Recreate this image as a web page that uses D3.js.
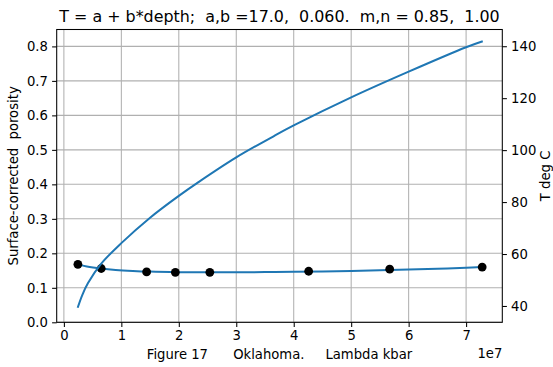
<!DOCTYPE html>
<html>
<head>
<meta charset="utf-8">
<script src="https://cdn.jsdelivr.net/npm/d3@7/dist/d3.min.js"></script>
<style>
  html, body { margin: 0; padding: 0; background: #fff; }
  svg { display: block; font-family: "DejaVu Sans", sans-serif; }
  text { white-space: pre; fill: #000; }
</style>
</head>
<body>
<svg id="chart" width="553" height="367"></svg>
<script>
// Lambda (units of 1e7) of the observed points and the porosity at each
const lambdaObs   = [0.244, 0.65, 1.44, 1.94, 2.54, 4.26, 5.67, 7.28];
const porosityObs = [0.168, 0.156, 0.146, 0.145, 0.145, 0.148, 0.154, 0.160];

// Fitted porosity curve
const lambdaFit   = [0.244, 0.4, 0.65, 0.9, 1.2, 1.5, 2.0, 2.5, 3.0, 3.5, 4.0, 4.5, 5.0, 5.5, 6.0, 6.5, 7.0, 7.28];
const porosityFit = [0.168, 0.162, 0.156, 0.152, 0.149, 0.147, 0.1455, 0.145, 0.145, 0.1455, 0.1465, 0.1475, 0.149, 0.151, 0.153, 0.155, 0.158, 0.160];

// Temperature curve (right axis)
const lambdaT = [0.24, 0.32, 0.42, 0.65, 1.0, 1.5, 2.0, 2.33, 3.0, 3.67, 4.0, 5.0, 6.0, 7.0, 7.29];
const tempT   = [39.3, 44.2, 48.8, 56.3, 64.2, 74.0, 82.4, 87.5, 97.2, 105.6, 109.5, 120.3, 130.2, 139.6, 141.9];

// Tick values
const xTicks = [0, 1, 2, 3, 4, 5, 6, 7];
const porosityTicks = [0.0, 0.1, 0.2, 0.3, 0.4, 0.5, 0.6, 0.7, 0.8];
const tempTicks = [40, 60, 80, 100, 120, 140];

const titleText = "T = a + b*depth;  a,b =17.0,  0.060.  m,n = 0.85,  1.00";
const xLabel = "Figure 17      Oklahoma.     Lambda kbar";
const yLabel = "Surface-corrected  porosity";
const y2Label = "T deg C";

const svg = d3.select("#chart");
const L = 56.7, R = 502.3, T = 29.5, B = 322.3;
const blue = "#1f77b4";
const fs = 13.2;

const x = d3.scaleLinear().domain([-0.125, 7.63]).range([L, R]);
const y = d3.scaleLinear().domain([0, 0.849]).range([B, T]);
const y2 = d3.scaleLinear().domain([33.71, 146.44]).range([B, T]);

// grid
const grid = svg.append("g");
grid.selectAll("line.gx").data(xTicks).join("line")
  .attr("x1", d => x(d)).attr("x2", d => x(d))
  .attr("y1", T).attr("y2", B)
  .attr("stroke", "#b0b0b0").attr("stroke-width", 1.05);
grid.selectAll("line.gy").data(porosityTicks).join("line")
  .attr("y1", d => y(d)).attr("y2", d => y(d))
  .attr("x1", L).attr("x2", R)
  .attr("stroke", "#b0b0b0").attr("stroke-width", 1.05);

svg.append("defs").append("clipPath").attr("id", "plot")
  .append("rect").attr("x", L).attr("y", T).attr("width", R - L).attr("height", B - T);

const plot = svg.append("g").attr("clip-path", "url(#plot)");

// fitted porosity line
plot.append("path")
  .datum(lambdaFit.map((v, i) => [v, porosityFit[i]]))
  .attr("fill", "none").attr("stroke", blue).attr("stroke-width", 2)
  .attr("d", d3.line().x(d => x(d[0])).y(d => y(d[1])).curve(d3.curveCatmullRom.alpha(0.5)));

// observed points
plot.selectAll("circle").data(lambdaObs.map((v, i) => [v, porosityObs[i]])).join("circle")
  .attr("cx", d => x(d[0])).attr("cy", d => y(d[1]))
  .attr("r", 4.4).attr("fill", "#000");

// temperature line
plot.append("path")
  .datum(lambdaT.map((v, i) => [v, tempT[i]]))
  .attr("fill", "none").attr("stroke", blue).attr("stroke-width", 2)
  .attr("d", d3.line().x(d => x(d[0])).y(d => y2(d[1])).curve(d3.curveCatmullRom.alpha(0.5)));

// axes
const fmtAxis = g => {
  g.selectAll("text").attr("font-size", fs).attr("font-family", "DejaVu Sans").attr("fill", "#000");
  g.selectAll("line").attr("stroke", "#000").attr("stroke-width", 1.05);
  g.select(".domain").remove();
};
svg.append("g").attr("transform", `translate(0,${B})`)
  .call(d3.axisBottom(x).tickValues(xTicks).tickFormat(d3.format("d")).tickSize(4.6).tickPadding(4.2))
  .call(fmtAxis);
svg.append("g").attr("transform", `translate(${L},0)`)
  .call(d3.axisLeft(y).tickValues(porosityTicks).tickFormat(d3.format(".1f")).tickSize(4.6).tickPadding(4.2))
  .call(fmtAxis);
svg.append("g").attr("transform", `translate(${R},0)`)
  .call(d3.axisRight(y2).tickValues(tempTicks).tickFormat(d3.format("d")).tickSize(4.6).tickPadding(4.2))
  .call(fmtAxis);

// frame
svg.append("rect").attr("x", L).attr("y", T).attr("width", R - L).attr("height", B - T)
  .attr("fill", "none").attr("stroke", "#000").attr("stroke-width", 1.05);

// texts
svg.append("text").attr("x", (L + R) / 2).attr("y", 22).attr("text-anchor", "middle")
  .attr("font-size", 15.9).text(titleText);
svg.append("text").attr("x", (L + R) / 2).attr("y", 359).attr("text-anchor", "middle")
  .attr("font-size", fs).text(xLabel);
svg.append("text").attr("x", R).attr("y", 358).attr("text-anchor", "end")
  .attr("font-size", fs).text("1e7");
svg.append("text").attr("transform", `translate(18,${(T + B) / 2}) rotate(-90)`)
  .attr("text-anchor", "middle").attr("font-size", fs).text(yLabel);
svg.append("text").attr("transform", `translate(549.5,${(T + B) / 2}) rotate(-90)`)
  .attr("text-anchor", "middle").attr("font-size", fs).text(y2Label);
</script>
</body>
</html>
